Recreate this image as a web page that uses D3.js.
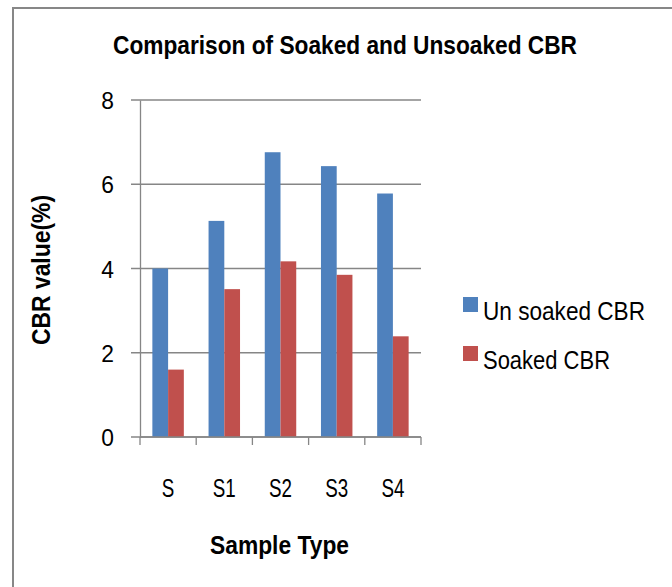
<!DOCTYPE html>
<html>
<head>
<meta charset="utf-8">
<script src="https://cdn.jsdelivr.net/npm/d3@7"></script>
<style>
  body { margin: 0; background: #fff; }
  svg text { font-family: "Liberation Sans Narrow", "Liberation Sans", Arial, sans-serif; fill: #000; }
</style>
</head>
<body>
<div id="chart"></div>
<script>
// Data
var samples = ["S", "S1", "S2", "S3", "S4"];
var unsoaked = [4.0, 5.13, 6.76, 6.43, 5.78];
var soaked = [1.6, 3.51, 4.17, 3.85, 2.39];
var seriesNames = ["Un soaked CBR", "Soaked CBR"];
var seriesColors = ["#4f81bd", "#c0504d"];
var yTicks = [0, 2, 4, 6, 8];

var width = 672, height = 587;
var margin = { top: 100, left: 140, right: 251, bottom: 150 };
var plotW = width - margin.left - margin.right,
    plotH = height - margin.top - margin.bottom;

var svg = d3.select("#chart").append("svg")
    .attr("width", width).attr("height", height);

// squeeze text horizontally, the original uses a narrow font
function narrow(sel, k) {
    sel.each(function() {
        var w = this.getComputedTextLength();
        d3.select(this).attr("textLength", w * k).attr("lengthAdjust", "spacingAndGlyphs");
    });
}

// chart frame (only left and top edges visible in the crop)
svg.append("path")
    .attr("d", "M13,587 V8 H672")
    .attr("fill", "none").attr("stroke", "#878787").attr("stroke-width", 2);

var g = svg.append("g").attr("transform", "translate(" + margin.left + "," + margin.top + ")");

var x = d3.scaleBand().domain(samples).range([0, plotW]);
var y = d3.scaleLinear().domain([0, 8]).range([plotH, 0]);
var gap = x.bandwidth() * 0.22;
var x1 = d3.scaleBand().domain([0, 1]).range([gap, x.bandwidth() - gap]);

// gridlines
g.append("g").selectAll("line").data(yTicks).enter().append("line")
    .attr("x1", -9).attr("x2", plotW)
    .attr("y1", function(d) { return y(d); }).attr("y2", function(d) { return y(d); })
    .attr("stroke", "#868686").attr("stroke-width", 1.3);

// bars
var rows = samples.map(function(s, i) { return { s: s, v: [unsoaked[i], soaked[i]] }; });
var grp = g.selectAll(".grp").data(rows).enter().append("g")
    .attr("transform", function(d) { return "translate(" + x(d.s) + ",0)"; });
grp.selectAll("rect").data(function(d) { return d.v; }).enter().append("rect")
    .attr("x", function(d, i) { return x1(i); })
    .attr("width", x1.bandwidth())
    .attr("y", function(d) { return y(d); })
    .attr("height", function(d) { return plotH - y(d); })
    .attr("fill", function(d, i) { return seriesColors[i]; });

// y axis
var yAxis = g.append("g").call(d3.axisLeft(y).tickValues(yTicks).tickSize(0).tickPadding(26));
yAxis.select(".domain").attr("stroke", "#868686").attr("stroke-width", 1.3);
yAxis.selectAll("text").style("font-size", "24px").attr("dy", "0.36em");
narrow(yAxis.selectAll("text"), 0.95);

// x axis
var xAxis = g.append("g").attr("transform", "translate(0," + plotH + ")")
    .call(d3.axisBottom(x).tickSize(0).tickPadding(42));
xAxis.select(".domain").remove();
xAxis.append("line").attr("x1", 0).attr("x2", plotW).attr("stroke", "#868686").attr("stroke-width", 1.3);
xAxis.selectAll(".edge").data(d3.range(samples.length + 1)).enter().append("line")
    .attr("x1", function(i) { return i * x.step(); }).attr("x2", function(i) { return i * x.step(); })
    .attr("y1", 0).attr("y2", 8).attr("stroke", "#868686").attr("stroke-width", 1.3);
xAxis.selectAll("text").style("font-size", "25px");
narrow(xAxis.selectAll("text"), 0.75);

// titles
svg.append("text").attr("x", 113).attr("y", 54)
    .attr("textLength", 464).attr("lengthAdjust", "spacingAndGlyphs")
    .style("font-size", "26px").style("font-weight", "bold")
    .text("Comparison of Soaked and Unsoaked CBR");
svg.append("text").attr("x", 210).attr("y", 554)
    .attr("textLength", 139).attr("lengthAdjust", "spacingAndGlyphs")
    .style("font-size", "25px").style("font-weight", "bold")
    .text("Sample Type");
svg.append("text").attr("transform", "translate(50,345) rotate(-90)")
    .attr("textLength", 150).attr("lengthAdjust", "spacingAndGlyphs")
    .style("font-size", "25px").style("font-weight", "bold")
    .text("CBR value(%)");

// legend
var legW = [162, 127];
var leg = svg.append("g").attr("transform", "translate(463,297)");
var li = leg.selectAll("g").data(seriesNames).enter().append("g")
    .attr("transform", function(d, i) { return "translate(0," + i * 49 + ")"; });
li.append("rect").attr("width", 15).attr("height", 15)
    .attr("fill", function(d, i) { return seriesColors[i]; });
li.append("text").attr("x", 20).attr("y", 23)
    .attr("textLength", function(d, i) { return legW[i]; }).attr("lengthAdjust", "spacingAndGlyphs")
    .style("font-size", "26px").text(function(d) { return d; });
</script>
</body>
</html>
